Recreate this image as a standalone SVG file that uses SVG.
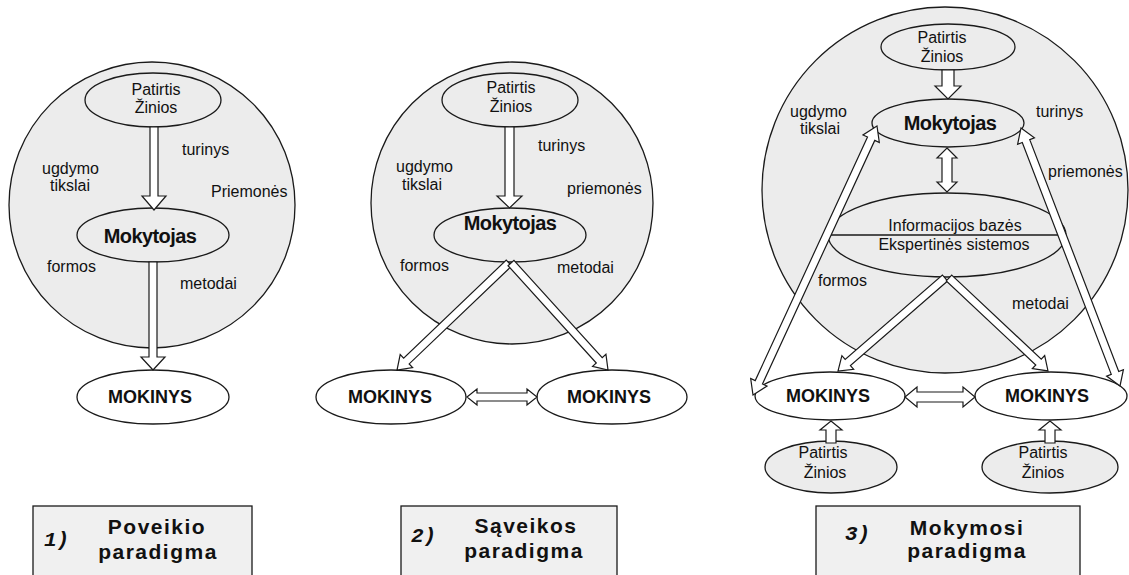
<svg xmlns="http://www.w3.org/2000/svg" width="1129" height="575" viewBox="0 0 1129 575">
<style>
.bg{fill:#ececec;stroke:#1a1a1a;stroke-width:1.3}
.el{fill:#ececec;stroke:#1a1a1a;stroke-width:1.3}
.elw{fill:#ffffff;stroke:#1a1a1a;stroke-width:1.3}
.box{fill:#f0f0f0;stroke:#1a1a1a;stroke-width:1.3}
.ar{fill:#ffffff;stroke:#1a1a1a;stroke-width:1.2;stroke-linejoin:miter}
.t{font-family:"Liberation Sans",Arial,sans-serif;font-size:16px;fill:#111}
.c{text-anchor:middle}
.b{font-family:"Liberation Sans",Arial,sans-serif;font-weight:bold;fill:#111;text-anchor:middle}
.m{font-size:20px;letter-spacing:-0.6px}
.k{font-size:18px}
.ti{font-family:"Liberation Sans",Arial,sans-serif;font-weight:bold;font-size:21px;letter-spacing:1.5px;fill:#111;text-anchor:middle}
.num{font-family:"Liberation Mono","Courier New",monospace;font-weight:bold;font-style:italic;font-size:21px;fill:#111}
</style>

<!-- background circles -->
<g id="scope1"><circle class="bg" cx="152" cy="205" r="143"/></g>
<g id="scope2"><circle class="bg" cx="512" cy="203" r="141"/></g>
<g id="scope3"><circle class="bg" cx="945" cy="190" r="183"/></g>

<!-- free labels -->
<g id="labels">
<text class="t" x="182" y="155">turinys</text>
<text class="t" x="42" y="174">ugdymo</text>
<text class="t" x="50" y="191">tikslai</text>
<text class="t" x="211" y="197">Priemonės</text>
<text class="t" x="47" y="272">formos</text>
<text class="t" x="180" y="289">metodai</text>

<text class="t" x="538" y="151">turinys</text>
<text class="t" x="396" y="172">ugdymo</text>
<text class="t" x="402" y="190">tikslai</text>
<text class="t" x="567" y="194">priemonės</text>
<text class="t" x="400" y="271">formos</text>
<text class="t" x="557" y="273">metodai</text>

<text class="t" x="790" y="117">ugdymo</text>
<text class="t" x="800" y="134">tikslai</text>
<text class="t" x="1036" y="117">turinys</text>
<text class="t" x="1048" y="177">priemonės</text>
<text class="t" x="818" y="286">formos</text>
<text class="t" x="1012" y="309">metodai</text>
</g>

<!-- panel 1 nodes -->
<g id="p1-patirtis"><ellipse class="el" cx="153" cy="100" rx="68" ry="27"/>
<text class="t c" x="156" y="95">Patirtis</text><text class="t c" x="156" y="113">Žinios</text></g>
<g id="p1-mokytojas"><ellipse class="el" cx="153" cy="235" rx="76" ry="27"/>
<text class="b m" x="150" y="243">Mokytojas</text></g>
<g id="p1-mokinys"><ellipse class="elw" cx="153" cy="397" rx="76" ry="27"/>
<text class="b k" x="150" y="403">MOKINYS</text></g>

<!-- panel 2 nodes -->
<g id="p2-patirtis"><ellipse class="el" cx="510" cy="100" rx="68" ry="27"/>
<text class="t c" x="511" y="93">Patirtis</text><text class="t c" x="511" y="112">Žinios</text></g>
<g id="p2-mokytojas"><ellipse class="el" cx="510" cy="235" rx="76" ry="27"/>
<text class="b m" x="510" y="230">Mokytojas</text></g>
<g id="p2-mokinys-a"><ellipse class="elw" cx="391" cy="397" rx="75" ry="27"/>
<text class="b k" x="390" y="403">MOKINYS</text></g>
<g id="p2-mokinys-b"><ellipse class="elw" cx="612" cy="397" rx="75" ry="27"/>
<text class="b k" x="609" y="403">MOKINYS</text></g>

<!-- panel 3 nodes -->
<g id="p3-patirtis"><ellipse class="el" cx="948" cy="47" rx="67" ry="23"/>
<text class="t c" x="942" y="43">Patirtis</text><text class="t c" x="942" y="62">Žinios</text></g>
<g id="p3-mokytojas"><ellipse class="el" cx="948" cy="123" rx="76" ry="24"/>
<text class="b m" x="950" y="130">Mokytojas</text></g>
<g id="p3-info"><ellipse class="el" cx="947" cy="235" rx="119" ry="42"/>
<line x1="830" y1="235" x2="1063" y2="235" stroke="#1a1a1a" stroke-width="1.3"/>
<text class="t c" x="955" y="231">Informacijos bazės</text>
<text class="t c" x="954" y="250">Ekspertinės sistemos</text></g>
<g id="p3-mokinys-a"><ellipse class="elw" cx="830" cy="396" rx="75" ry="24"/>
<text class="b k" x="828" y="402">MOKINYS</text></g>
<g id="p3-mokinys-b"><ellipse class="elw" cx="1051" cy="396" rx="76" ry="24"/>
<text class="b k" x="1047" y="402">MOKINYS</text></g>
<g id="p3-patirtis-a"><ellipse class="el" cx="831" cy="467" rx="66" ry="26"/>
<text class="t c" x="823" y="458">Patirtis</text><text class="t c" x="825" y="478">Žinios</text></g>
<g id="p3-patirtis-b"><ellipse class="el" cx="1050" cy="467" rx="68" ry="26"/>
<text class="t c" x="1043" y="458">Patirtis</text><text class="t c" x="1043" y="478">Žinios</text></g>

<!-- connectors -->
<g id="connectors">
<polygon class="ar" points="150,127 158,127 158,196 166,196 154,210 142,196 150,196"/>
<polygon class="ar" points="149,262 157,262 157,357 165,357 153,370 141,357 149,357"/>

<polygon class="ar" points="505,127 514,127 514,196 522,196 509.5,208 497,196 505,196"/>
<path class="ar" transform="translate(509,263) rotate(136.3)" d="M0,-4 H141.9 V-9 L154.9,0 L141.9,9 V4 H0 Z"/>
<path class="ar" transform="translate(511,263) rotate(47.8)" d="M0,-4 H131.4 V-9 L144.4,0 L131.4,9 V4 H0 Z"/>
<polygon class="ar" points="467,397 477,389 477,393 527,393 527,389 537,397 527,405 527,401 477,401 477,405"/>

<polygon class="ar" points="942,70 954,70 954,86 961,86 948,99 935,86 942,86"/>
<polygon class="ar" points="947,148 957,158 952,158 952,182 957,182 947,192 937,182 942,182 942,158 937,158"/>
<path class="ar" transform="translate(877,126) rotate(114.75)" d="M0,0 L14,-9 V-4 H282.2 V-9 L296.2,0 L282.2,9 V4 H14 V9 Z"/>
<path class="ar" transform="translate(1021,128) rotate(69)" d="M0,0 L14,-9 V-4 H262.3 V-9 L276.3,0 L262.3,9 V4 H14 V9 Z"/>
<path class="ar" transform="translate(945,278) rotate(139)" d="M0,-4 H128.8 V-9 L141.8,0 L128.8,9 V4 H0 Z"/>
<path class="ar" transform="translate(949,278) rotate(43.2)" d="M0,-4 H122.8 V-9 L135.8,0 L122.8,9 V4 H0 Z"/>
<polygon class="ar" points="905,397 917,387 917,392 963,392 963,387 975,397 963,407 963,402 917,402 917,407"/>
<polygon class="ar" points="826,443 836,443 836,430 842,430 831,421 820,430 826,430"/>
<polygon class="ar" points="1045,443 1055,443 1055,430 1061,430 1050,421 1039,430 1045,430"/>
</g>

<!-- caption boxes -->
<g id="caption1"><rect class="box" x="33" y="506" width="219" height="80"/>
<text class="num" x="44" y="546">1)</text>
<text class="ti" x="157" y="534">Poveikio</text><text class="ti" x="158" y="559">paradigma</text></g>
<g id="caption2"><rect class="box" x="401" y="506" width="216" height="80"/>
<text class="num" x="411" y="542">2)</text>
<text class="ti" x="526" y="533">Sąveikos</text><text class="ti" x="524" y="558">paradigma</text></g>
<g id="caption3"><rect class="box" x="816" y="506" width="264" height="80"/>
<text class="num" x="845" y="540">3)</text>
<text class="ti" x="967" y="535">Mokymosi</text><text class="ti" x="967" y="558">paradigma</text></g>
</svg>
